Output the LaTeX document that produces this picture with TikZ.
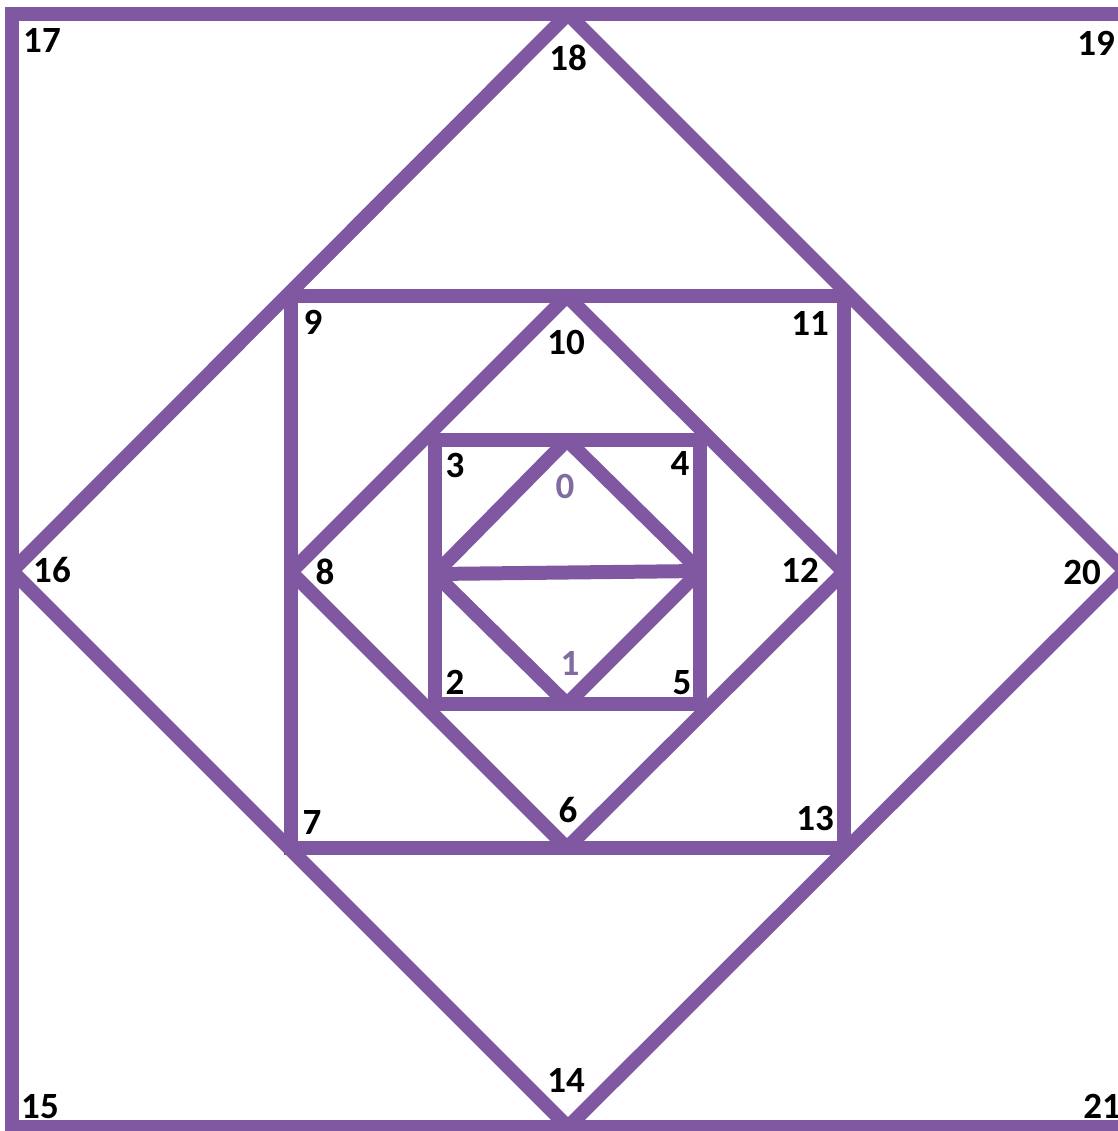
\documentclass[tikz,border=0pt]{standalone}
\usepackage{fontspec}
\setmainfont{Carlito}
\definecolor{lineviolet}{RGB}{127,88,161}
\definecolor{softviolet}{RGB}{128,108,160}
\begin{document}
\begin{tikzpicture}[x=0.5pt,y=-0.5pt,
  edge/.style={draw=lineviolet,line width=7pt,line join=miter,line cap=butt},
  diag/.style={edge,line join=bevel},
  lbl/.style={inner sep=0pt,anchor=center,font=\fontsize{18.5}{18.5}\selectfont\bfseries,text=black},
  lblsoft/.style={lbl,text=softviolet}]
\useasboundingbox (0,0) rectangle (1118,1131);
% outer square
\coordinate (A1) at (12,14);
\coordinate (A2) at (1125,14);
\coordinate (A3) at (1125,1127);
\coordinate (A4) at (12,1127);
% outer diamond
\coordinate (B1) at (568,14);
\coordinate (B2) at (1125,571);
\coordinate (B3) at (568,1127);
\coordinate (B4) at (12,571);
% square 2
\coordinate (C1) at (291,296);
\coordinate (C2) at (844,296);
\coordinate (C3) at (844,848);
\coordinate (C4) at (291,848);
% diamond 2
\coordinate (D1) at (567,296);
\coordinate (D2) at (844,572);
\coordinate (D3) at (567,848);
\coordinate (D4) at (291,572);
% square 3
\coordinate (E1) at (435,440);
\coordinate (E2) at (700,440);
\coordinate (E3) at (700,704);
\coordinate (E4) at (435,704);
% inner diamond
\coordinate (F1) at (567,440);
\coordinate (F2) at (700,571);
\coordinate (F3) at (567,704);
\coordinate (F4) at (435,574);

\draw[edge] (A1) -- (A2) -- (A3) -- (A4) -- cycle;
\draw[diag] (B1) -- (B2) -- (B3) -- (B4) -- cycle;
\draw[edge] (C1) -- (C2) -- (C3) -- (C4) -- cycle;
\draw[diag] (D1) -- (D2) -- (D3) -- (D4) -- cycle;
\draw[edge] (E1) -- (E2) -- (E3) -- (E4) -- cycle;
\draw[diag] (F1) -- (F2) -- (F3) -- (F4) -- cycle;
\draw[diag] (F4) -- (F2);

\node[lbl] (n17) at (42,40) {17};
\node[lbl] (n18) at (568,58) {18};
\node[lbl] (n19) at (1096,43) {19};
\node[lbl] (n16) at (52,570) {16};
\node[lbl] (n20) at (1082,572) {20};
\node[lbl] (n15) at (40,1107) {15};
\node[lbl] (n14) at (566,1080) {14};
\node[lbl] (n21) at (1102,1106) {21};
\node[lbl] (n9) at (313,322) {9};
\node[lbl] (n10) at (566,342) {10};
\node[lbl] (n11) at (810,323) {11};
\node[lbl] (n8) at (325,572) {8};
\node[lbl] (n12) at (800,570) {12};
\node[lbl] (n7) at (312,822) {7};
\node[lbl] (n6) at (568,810) {6};
\node[lbl] (n13) at (815,818) {13};
\node[lbl] (n3) at (455,465) {3};
\node[lbl] (n4) at (680,463) {4};
\node[lbl] (n2) at (455,682) {2};
\node[lbl] (n5) at (682,683) {5};
\node[lblsoft] (n0) at (565,486) {0};
\node[lblsoft] (n1) at (570,663) {1};
\end{tikzpicture}
\end{document}
